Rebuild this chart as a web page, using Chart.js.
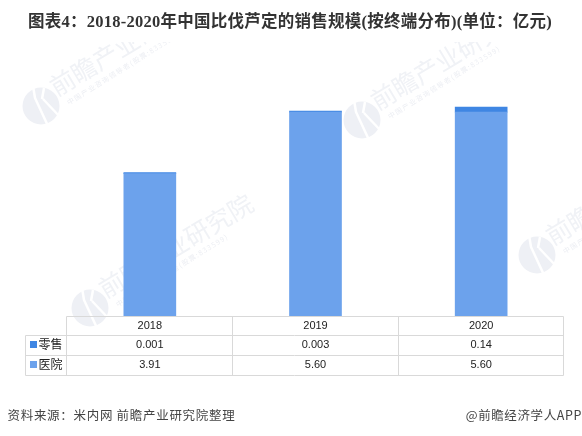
<!DOCTYPE html>
<html lang="zh-CN">
<head>
    <meta charset="UTF-8">
    <title>比伐芦定的销售规模</title>
    <script src="https://cdn.jsdelivr.net/npm/chart.js@4.4.0/dist/chart.umd.min.js"></script>
    <style>
        body { margin: 0; background: #fff; }
        canvas { display: block; }
    </style>
</head>
<body>
    <canvas id="salesChart" width="582" height="436"></canvas>

    <script>
        // Data
        const years = ['2018', '2019', '2020'];
        const retailValues = [0.001, 0.003, 0.14];
        const hospitalValues = [3.91, 5.60, 5.60];
        const retailLabels = ['0.001', '0.003', '0.14'];
        const hospitalLabels = ['3.91', '5.60', '5.60'];
        const chartTitle = '图表4：2018-2020年中国比伐芦定的销售规模(按终端分布)(单位：亿元)';

        const retailColor = '#3f86e3';
        const hospitalColor = '#6ca2ec';
        const lineColor = '#d9d9d9';
        const textFont = '"Noto Sans CJK SC", "Noto Sans", sans-serif';

        // Faint company marks behind the bars
        const watermarkPlugin = {
            id: 'watermark',
            beforeDatasetsDraw(chart) {
                const ctx = chart.ctx;
                const spots = [[41, 106], [90, 308], [362, 120], [537, 255]];
                ctx.save();
                ctx.beginPath();
                ctx.rect(0, 42, 582, 394);
                ctx.clip();
                spots.forEach(([x, y]) => {
                    // round logo with a white slash through it
                    ctx.fillStyle = '#eef0f5';
                    ctx.beginPath();
                    ctx.arc(x, y, 18.5, 0, Math.PI * 2);
                    ctx.fill();
                    ctx.strokeStyle = '#fff';
                    ctx.lineWidth = 2.5;
                    ctx.beginPath();
                    ctx.moveTo(x - 8, y - 20);
                    ctx.lineTo(x - 6, y - 8);
                    ctx.lineTo(x + 7, y + 20);
                    ctx.moveTo(x + 1, y - 7);
                    ctx.lineTo(x + 3, y - 18);
                    ctx.moveTo(x + 2, y - 7);
                    ctx.lineTo(x + 20, y + 12);
                    ctx.stroke();

                    ctx.save();
                    ctx.translate(x + 20, y - 25);
                    ctx.rotate(-31 * Math.PI / 180);
                    ctx.fillStyle = '#f0f2f6';
                    ctx.font = '25px ' + textFont;
                    ctx.textBaseline = 'middle';
                    ctx.fillText('前瞻产业研究院', -12, 2);
                    ctx.restore();

                    ctx.save();
                    ctx.translate(x + 30, y - 5);
                    ctx.rotate(-32 * Math.PI / 180);
                    ctx.fillStyle = '#eceef3';
                    ctx.font = '7px ' + textFont;
                    ctx.letterSpacing = '1.2px';
                    ctx.textBaseline = 'middle';
                    ctx.fillText('中国产业咨询领导者(股票:833599)', -4, 0);
                    ctx.restore();
                });
                ctx.restore();
            }
        };

        // Title, data table under the bars, and the source lines
        const tablePlugin = {
            id: 'dataTable',
            afterDraw(chart) {
                const ctx = chart.ctx;
                const xScale = chart.scales.x;
                const band = (xScale.right - xScale.left) / years.length;
                const edges = [0, 1, 2, 3].map(i => Math.floor(xScale.left + band * i - 0.2) + 0.5);
                const right = edges[3];
                const outerLeft = 25.5;
                const rows = [316.5, 335.5, 355.5, 375.5];

                ctx.save();
                ctx.fillStyle = '#333';
                ctx.font = 'bold 16.5px "Liberation Serif", ' + textFont;
                ctx.letterSpacing = '0.25px';
                ctx.textAlign = 'center';
                ctx.textBaseline = 'middle';
                ctx.fillText(chartTitle, 290, 23);
                ctx.letterSpacing = '0px';

                ctx.strokeStyle = lineColor;
                ctx.lineWidth = 1;
                ctx.beginPath();
                rows.forEach((y, i) => {
                    ctx.moveTo(i === 0 ? edges[0] : outerLeft, y);
                    ctx.lineTo(right, y);
                });
                ctx.moveTo(outerLeft, rows[1]);
                ctx.lineTo(outerLeft, rows[3]);
                edges.forEach(x => {
                    ctx.moveTo(x, rows[0]);
                    ctx.lineTo(x, rows[3]);
                });
                ctx.stroke();

                ctx.fillStyle = '#222';
                ctx.font = '11px "Liberation Sans", sans-serif';
                years.forEach((year, i) => {
                    const x = xScale.getPixelForValue(i);
                    ctx.fillText(year, x, 325.5);
                    ctx.fillText(retailLabels[i], x, 344.5);
                    ctx.fillText(hospitalLabels[i], x, 364.5);
                });

                // legend keys sit in the first column
                const keys = [['零售', retailColor, 344.5], ['医院', hospitalColor, 364.5]];
                keys.forEach(([name, color, y]) => {
                    ctx.fillStyle = color;
                    ctx.fillRect(30, y - 3.5, 7, 7);
                    ctx.fillStyle = '#222';
                    ctx.font = '12px ' + textFont;
                    ctx.textAlign = 'left';
                    ctx.fillText(name, 38.5, y);
                });

                ctx.fillStyle = '#444';
                ctx.font = '12.5px ' + textFont;
                ctx.letterSpacing = '0.7px';
                ctx.fillText('资料来源：米内网 前瞻产业研究院整理', 7.5, 415);
                ctx.textAlign = 'right';
                ctx.letterSpacing = '0.6px';
                ctx.fillText('@前瞻经济学人APP', 582, 415);
                ctx.restore();
            }
        };

        new Chart(document.getElementById('salesChart').getContext('2d'), {
            type: 'bar',
            data: {
                labels: years,
                datasets: [
                    {
                        label: '医院',
                        data: hospitalValues,
                        backgroundColor: hospitalColor,
                        borderWidth: 0,
                        barThickness: 52
                    },
                    {
                        label: '零售',
                        data: retailValues,
                        backgroundColor: retailColor,
                        borderWidth: 0,
                        barThickness: 52,
                        minBarLength: 1
                    }
                ]
            },
            options: {
                responsive: false,
                animation: false,
                layout: { padding: { left: 67, right: 18, top: 97.6, bottom: 120 } },
                plugins: {
                    legend: { display: false },
                    tooltip: { enabled: false }
                },
                scales: {
                    x: { stacked: true, display: false },
                    y: { stacked: true, display: false, min: 0, max: 6 }
                }
            },
            plugins: [watermarkPlugin, tablePlugin]
        });
    </script>
</body>
</html>
